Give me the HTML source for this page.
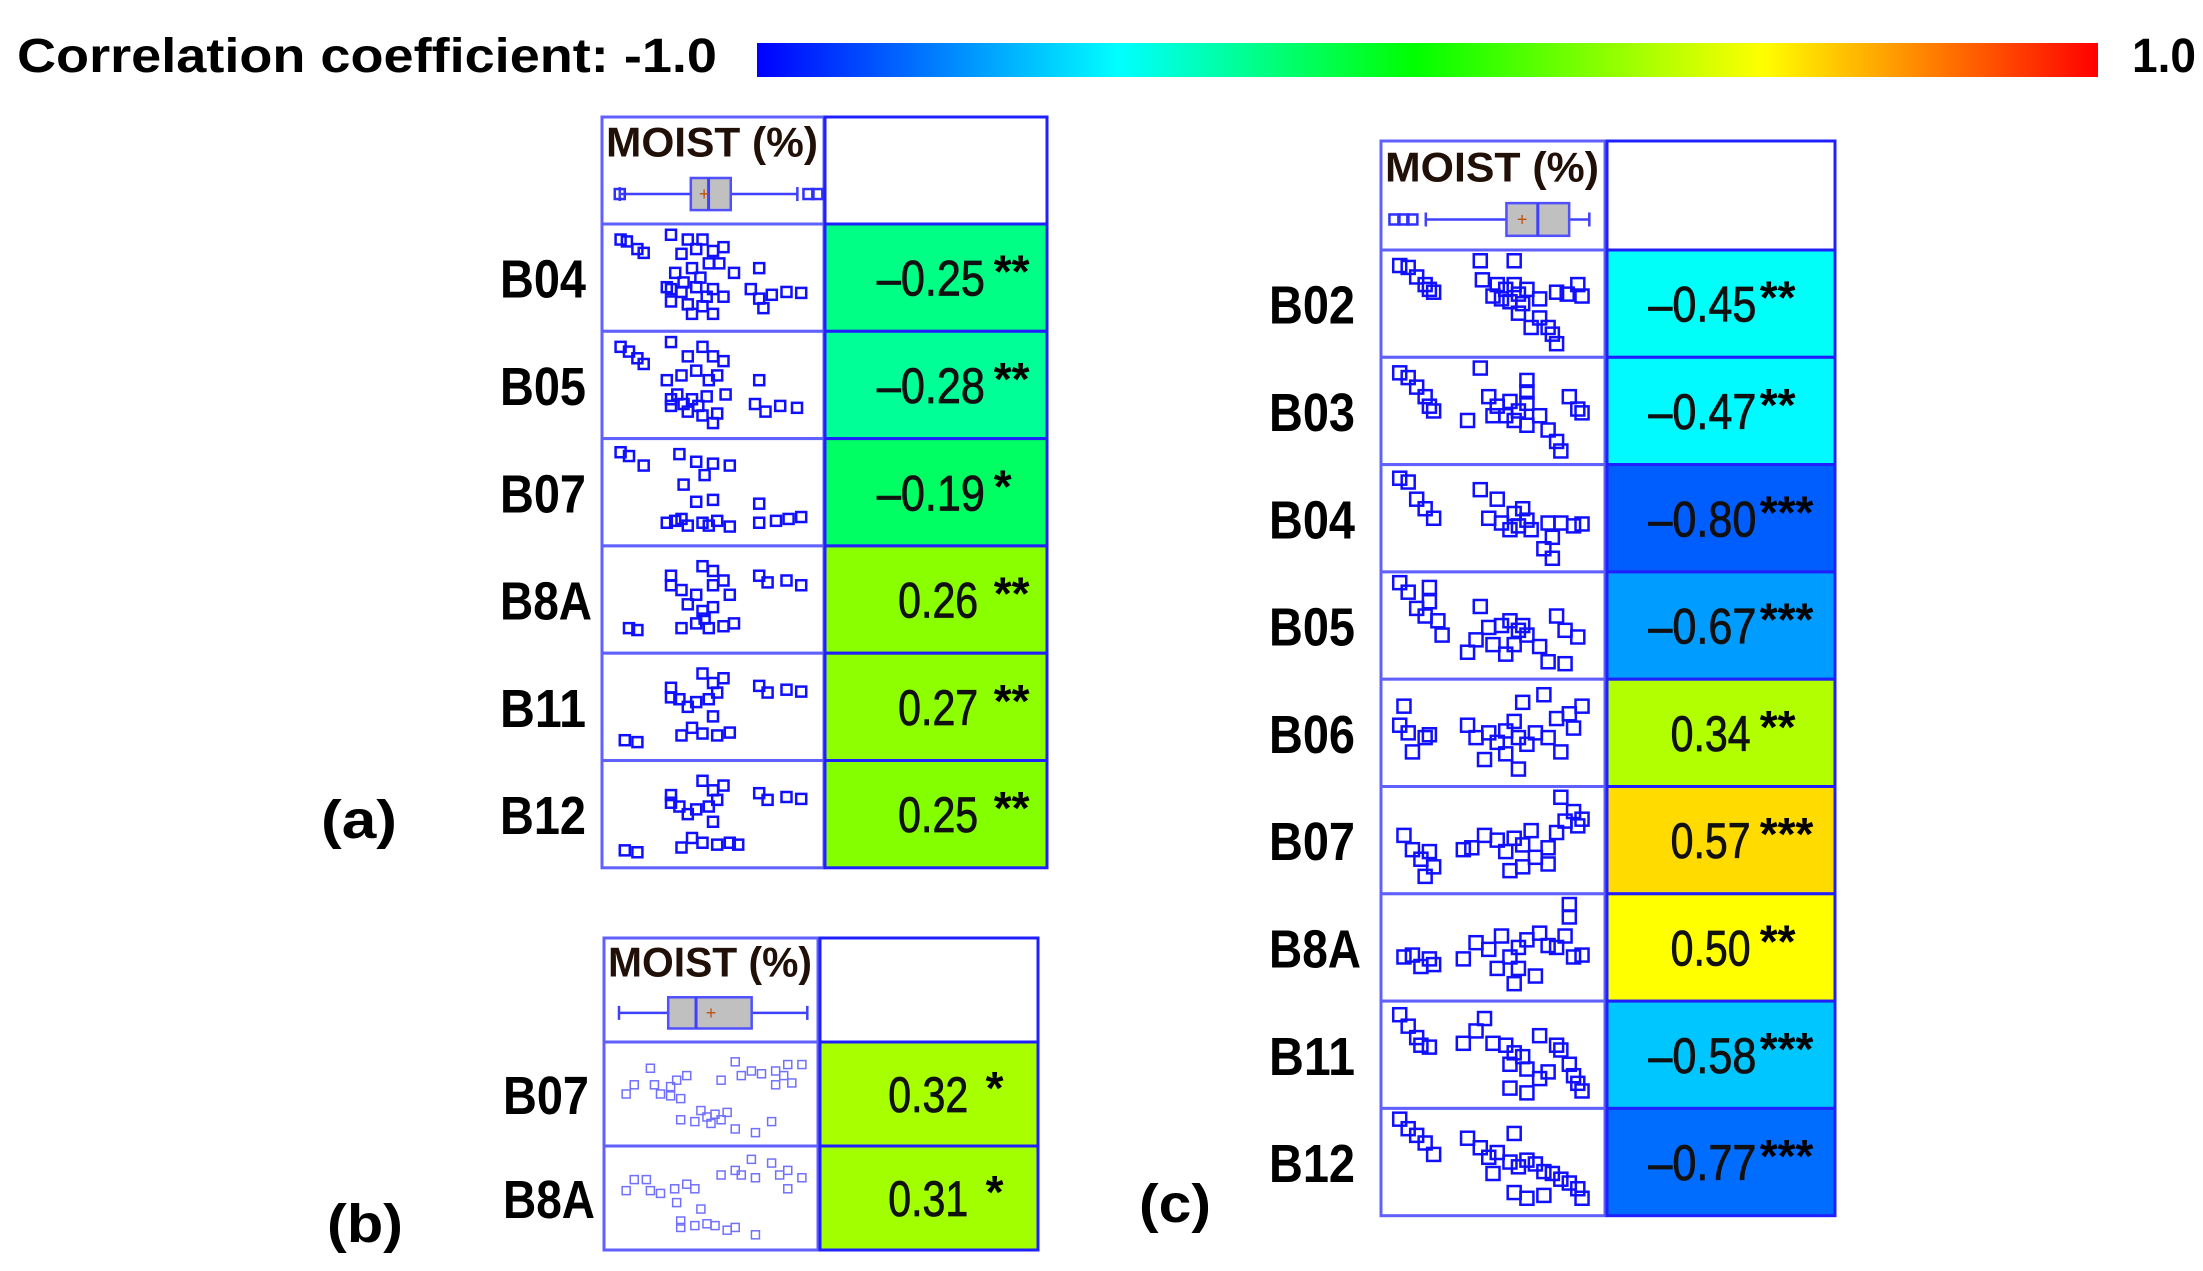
<!DOCTYPE html>
<html><head><meta charset="utf-8"><style>
html,body{margin:0;padding:0;background:#fff;}
svg{display:block;font-family:"Liberation Sans",Arial,sans-serif;}
</style></head><body>
<svg id="chart" width="2203" height="1271" viewBox="0 0 2203 1271">
<defs>
<linearGradient id="cbar" x1="0" x2="1" y1="0" y2="0">
<stop offset="0" stop-color="#0000ff"/><stop offset="0.27" stop-color="#00ffff"/><stop offset="0.49" stop-color="#00ff00"/><stop offset="0.75" stop-color="#ffff00"/><stop offset="1" stop-color="#ff0000"/>
</linearGradient>
</defs>
<g>
<text x="17" y="72" font-size="48" font-weight="bold" textLength="700" lengthAdjust="spacingAndGlyphs">Correlation coefficient: -1.0</text>
<rect x="757" y="43" width="1341" height="34" fill="url(#cbar)"/>
<text x="2132" y="72" font-size="48" font-weight="bold" textLength="64" lengthAdjust="spacingAndGlyphs">1.0</text>
</g>
<text x="321" y="838" font-size="54" font-weight="bold" textLength="76" lengthAdjust="spacingAndGlyphs">(a)</text>
<text x="327" y="1242" font-size="54" font-weight="bold" textLength="76" lengthAdjust="spacingAndGlyphs">(b)</text>
<text x="1139" y="1222" font-size="54" font-weight="bold" textLength="72" lengthAdjust="spacingAndGlyphs">(c)</text>
</svg>
<script>
// Panel data
const aBands = ["B04","B05","B07","B8A","B11","B12"];
const aValues = [-0.25,-0.28,-0.19,0.26,0.27,0.25];
const aStars = ["**","**","*","**","**","**"];
const bBands = ["B07","B8A"];
const bValues = [0.32,0.31];
const bStars = ["*","*"];
const cBands = ["B02","B03","B04","B05","B06","B07","B8A","B11","B12"];
const cValues = [-0.45,-0.47,-0.80,-0.67,0.34,0.57,0.50,-0.58,-0.77];
const cStars = ["**","**","***","***","**","***","**","***","***"];
// normalized scatter points [x,y] (0..1) per row
const aPts = [
 [[.06,.1],[.09,.12],[.14,.2],[.17,.24],[.3,.05],[.38,.1],[.45,.1],[.35,.25],[.42,.2],[.5,.22],[.55,.18],[.48,.35],[.4,.4],[.32,.45],[.28,.6],[.35,.65],[.42,.6],[.5,.62],[.55,.7],[.3,.75],[.38,.78],[.45,.8],[.5,.88],[.53,.35],[.6,.45],[.72,.4],[.68,.62],[.72,.72],[.78,.68],[.85,.65],[.92,.66],[.74,.82],[.36,.55],[.44,.5],[.3,.62],[.47,.7],[.4,.88]],
 [[.06,.1],[.1,.15],[.14,.22],[.17,.28],[.3,.05],[.45,.1],[.38,.2],[.5,.2],[.55,.25],[.42,.35],[.35,.4],[.28,.45],[.48,.45],[.52,.4],[.33,.6],[.4,.65],[.47,.62],[.3,.72],[.38,.78],[.45,.82],[.52,.8],[.72,.45],[.7,.7],[.75,.78],[.82,.72],[.9,.74],[.5,.9],[.36,.7],[.43,.72],[.3,.65],[.56,.6]],
 [[.06,.08],[.1,.12],[.17,.22],[.34,.1],[.42,.18],[.5,.2],[.58,.22],[.46,.32],[.36,.42],[.42,.6],[.5,.58],[.32,.8],[.38,.85],[.45,.82],[.52,.8],[.58,.86],[.28,.82],[.72,.62],[.72,.82],[.8,.8],[.86,.78],[.92,.76],[.35,.78],[.48,.85]],
 [[.1,.8],[.14,.82],[.3,.35],[.35,.4],[.45,.15],[.5,.2],[.5,.35],[.55,.3],[.42,.45],[.38,.55],[.45,.62],[.5,.58],[.42,.75],[.48,.8],[.55,.78],[.6,.75],[.35,.8],[.72,.25],[.76,.32],[.85,.3],[.92,.35],[.58,.45],[.3,.25],[.46,.7]],
 [[.08,.85],[.14,.87],[.3,.3],[.34,.42],[.45,.15],[.5,.25],[.52,.35],[.42,.45],[.38,.5],[.5,.6],[.4,.72],[.45,.78],[.52,.8],[.58,.77],[.35,.8],[.72,.28],[.76,.35],[.85,.32],[.92,.34],[.55,.2],[.48,.42],[.3,.4]],
 [[.08,.88],[.14,.9],[.3,.3],[.34,.42],[.45,.15],[.5,.25],[.52,.35],[.42,.45],[.38,.5],[.5,.58],[.4,.75],[.45,.8],[.52,.82],[.58,.8],[.35,.85],[.62,.82],[.72,.28],[.76,.35],[.85,.32],[.92,.34],[.55,.2],[.48,.42],[.3,.38]]
];
const bPts = [
 [[.08,.5],[.12,.4],[.2,.22],[.22,.4],[.25,.5],[.3,.42],[.33,.35],[.38,.3],[.3,.52],[.35,.55],[.45,.68],[.48,.75],[.52,.72],[.58,.7],[.5,.82],[.55,.78],[.62,.88],[.72,.92],[.55,.35],[.62,.15],[.65,.3],[.7,.25],[.75,.28],[.82,.25],[.86,.3],[.88,.18],[.95,.18],[.82,.4],[.9,.38],[.35,.78],[.42,.8],[.8,.8]],
 [[.08,.42],[.12,.3],[.18,.3],[.2,.42],[.25,.45],[.32,.4],[.38,.35],[.42,.4],[.45,.62],[.33,.55],[.35,.75],[.42,.8],[.48,.78],[.52,.8],[.58,.85],[.62,.82],[.72,.9],[.55,.25],[.62,.2],[.65,.25],[.7,.08],[.72,.28],[.8,.12],[.84,.25],[.88,.2],[.95,.28],[.88,.4],[.35,.82]]
];
const cPts = [
 [[.06,.1],[.1,.12],[.14,.22],[.18,.3],[.2,.35],[.22,.38],[.44,.05],[.6,.05],[.45,.25],[.52,.3],[.56,.35],[.62,.4],[.66,.35],[.5,.42],[.58,.48],[.64,.5],[.72,.45],[.8,.38],[.85,.4],[.9,.3],[.92,.42],[.62,.6],[.72,.65],[.76,.75],[.78,.82],[.8,.92],[.68,.75],[.54,.45],[.6,.3]],
 [[.06,.1],[.1,.15],[.14,.25],[.18,.35],[.2,.45],[.22,.5],[.44,.05],[.48,.35],[.52,.45],[.58,.4],[.62,.5],[.66,.42],[.5,.55],[.6,.6],[.66,.65],[.72,.55],[.76,.7],[.8,.82],[.82,.92],[.86,.35],[.9,.48],[.92,.52],[.66,.18],[.66,.3],[.38,.6],[.56,.55]],
 [[.06,.08],[.1,.12],[.14,.3],[.18,.4],[.22,.5],[.44,.2],[.48,.5],[.54,.55],[.6,.45],[.64,.4],[.66,.52],[.58,.62],[.68,.62],[.76,.55],[.78,.7],[.82,.55],[.88,.58],[.92,.56],[.74,.82],[.78,.92],[.52,.3],[.62,.58]],
 [[.06,.05],[.1,.15],[.14,.32],[.18,.4],[.2,.1],[.2,.25],[.24,.45],[.26,.6],[.44,.3],[.48,.52],[.54,.5],[.58,.45],[.62,.55],[.66,.6],[.6,.7],[.5,.7],[.38,.78],[.56,.8],[.72,.72],[.8,.4],[.84,.55],[.9,.62],[.76,.88],[.84,.9],[.42,.65],[.64,.5]],
 [[.08,.22],[.06,.42],[.1,.5],[.12,.7],[.18,.55],[.2,.52],[.38,.42],[.42,.55],[.48,.5],[.52,.6],[.56,.48],[.6,.38],[.62,.55],[.66,.62],[.7,.5],[.76,.55],[.8,.35],[.86,.3],[.92,.22],[.64,.18],[.74,.1],[.46,.78],[.56,.72],[.62,.88],[.82,.7],[.88,.45]],
 [[.08,.45],[.12,.6],[.16,.7],[.2,.62],[.22,.78],[.18,.88],[.36,.6],[.4,.58],[.46,.45],[.52,.5],[.56,.62],[.6,.48],[.64,.55],[.68,.4],[.7,.68],[.76,.58],[.8,.42],[.84,.3],[.88,.2],[.9,.35],[.92,.28],[.82,.05],[.76,.75],[.64,.78],[.58,.82]],
 [[.08,.6],[.12,.58],[.16,.7],[.2,.62],[.22,.68],[.36,.62],[.42,.45],[.48,.52],[.54,.38],[.58,.6],[.62,.5],[.66,.42],[.72,.35],[.76,.48],[.8,.5],[.84,.38],[.86,.05],[.86,.18],[.88,.6],[.92,.58],[.52,.72],[.62,.72],[.7,.8],[.6,.88]],
 [[.06,.08],[.1,.2],[.14,.32],[.16,.4],[.2,.42],[.36,.38],[.42,.25],[.46,.12],[.5,.38],[.56,.4],[.6,.48],[.64,.52],[.58,.6],[.66,.65],[.72,.75],[.76,.68],[.8,.4],[.82,.45],[.86,.6],[.88,.72],[.9,.8],[.92,.88],[.58,.85],[.66,.9],[.72,.3]],
 [[.06,.05],[.1,.15],[.14,.22],[.18,.3],[.22,.42],[.38,.25],[.44,.35],[.48,.45],[.52,.4],[.58,.5],[.62,.55],[.6,.2],[.66,.48],[.7,.52],[.74,.6],[.78,.62],[.82,.68],[.86,.72],[.9,.78],[.92,.88],[.6,.82],[.66,.88],[.74,.85],[.5,.62]]
];
const aBox = {min:.08,q1:.4,med:.48,q3:.58,max:.88,mean:.46,outL:[.08],outR:[.93,.97]};
const bBox = {min:.07,q1:.3,med:.43,q3:.69,max:.95,mean:.5,outL:[],outR:[]};
const cBox = {min:.2,q1:.56,med:.7,q3:.84,max:.93,mean:.63,outL:[.06,.1,.14],outR:[]};

const svg = document.getElementById('chart');
const NS = 'http://www.w3.org/2000/svg';
function mk(tag, attrs, parent){ const e=document.createElementNS(NS,tag); for(const k in attrs) e.setAttribute(k,attrs[k]); (parent||svg).appendChild(e); return e; }

const stops=[[0,[0,0,255]],[0.27,[0,255,255]],[0.49,[0,255,0]],[0.75,[255,255,0]],[1,[255,0,0]]];
function colorFor(v){
  const t=(v+1)/2;
  for(let i=0;i<stops.length-1;i++){
    const [t0,c0]=stops[i],[t1,c1]=stops[i+1];
    if(t>=t0&&t<=t1){const f=(t-t0)/(t1-t0);return 'rgb('+c0.map((c,j)=>Math.round(c+(c1[j]-c)*f)).join(',')+')';}
  }
  return 'red';
}

function panel(id, cfg){
  const g=mk('g',{});
  
  
  const {sx,sw,vx,vw,top,headH,rowH,labelX,bands,values,stars,pts,box,ms,light,endNeg,endPos,starF}=cfg;
  const hs=mk('rect',{x:sx,y:top,width:sw,height:headH,fill:'#fff',stroke:'#6060ff','stroke-width':3},g);
  
  
  const hv=mk('rect',{x:vx,y:top,width:vw,height:headH,fill:'#fff',stroke:'#2020ff','stroke-width':3},g);
  
  
  const ht=mk('text',{x:sx+4,y:top+headH*0.37,'font-size':42,'font-weight':'bold',fill:'#201008',textLength:sw-10,lengthAdjust:'spacingAndGlyphs'},g);
  ht.textContent='MOIST (%)';
  
  
  const bx=v=>sx+v*sw, by=top+headH*0.72, bh=headH*0.3;
  const bg=mk('g',{},g);
  
  
  mk('line',{x1:bx(box.min),x2:bx(box.q1),y1:by,y2:by,stroke:'#4040ff','stroke-width':2.5},bg);
  mk('line',{x1:bx(box.q3),x2:bx(box.max),y1:by,y2:by,stroke:'#4040ff','stroke-width':2.5},bg);
  mk('line',{x1:bx(box.min),x2:bx(box.min),y1:by-7,y2:by+7,stroke:'#4040ff','stroke-width':2.5},bg);
  mk('line',{x1:bx(box.max),x2:bx(box.max),y1:by-7,y2:by+7,stroke:'#4040ff','stroke-width':2.5},bg);
  mk('rect',{x:bx(box.q1),y:by-bh/2,width:bx(box.q3)-bx(box.q1),height:bh,fill:'#c0c0c0',stroke:'#5050ff','stroke-width':2.5},bg);
  mk('line',{x1:bx(box.med),x2:bx(box.med),y1:by-bh/2,y2:by+bh/2,stroke:'#4040ff','stroke-width':3},bg);
  mk('text',{x:bx(box.mean),y:by+6,'font-size':18,fill:'#c05010','text-anchor':'middle'},bg).textContent='+';
  box.outL.concat(box.outR).forEach(o=>mk('rect',{x:bx(o)-5,y:by-5,width:10,height:10,fill:'none',stroke:'#3030ff','stroke-width':2.5},bg));
  bands.forEach((b,i)=>{
    const y=top+headH+i*rowH;
    const cs=mk('rect',{x:sx,y:y,width:sw,height:rowH,fill:'#fff',stroke:'#6060ff','stroke-width':3},g);
    
    
    pts[i].forEach(p=>{
      const m=mk('rect',{x:sx+6+p[0]*(sw-12)-ms/2,y:y+6+p[1]*(rowH-12)-ms/2,width:ms,height:ms,fill:'none',stroke:light?'#7070ff':'#1010ff','stroke-width':light?1.5:2.5},g);
      
      
    });
    const cv=mk('rect',{x:vx,y:y,width:vw,height:rowH,fill:colorFor(values[i]),stroke:'#2020ff','stroke-width':3},g);
    
    
    const lab=mk('text',{x:labelX,y:y+rowH/2+20,'font-size':54,'font-weight':'bold',textLength:b==='B8A'?92:86,lengthAdjust:'spacingAndGlyphs'},g);
    lab.textContent=b;
    
    
    const s=values[i].toFixed(2).replace('-','\u2013');
    const neg=values[i]<0;
    const len=neg?108:80;
    const end=vx+vw*(neg?endNeg:endPos);
    const vt=mk('text',{x:end-len,y:y+rowH/2+18,'font-size':50,fill:'#111',stroke:'#111','stroke-width':0.8,textLength:len,lengthAdjust:'spacingAndGlyphs'},g);
    vt.textContent=s;
    
    
    const st=mk('text',{x:vx+vw*starF,y:y+rowH/2+10,'font-size':46,'font-weight':'bold',fill:'#000'},g);
    st.textContent=stars[i];
    
    
  });
}
panel('panel-a',{sx:602,sw:222,vx:825,vw:222,top:117,headH:107,rowH:107.3,labelX:500,bands:aBands,values:aValues,stars:aStars,pts:aPts,box:aBox,ms:10,endNeg:.72,endPos:.69,starF:.76});
panel('panel-b',{sx:604,sw:214,vx:820,vw:218,top:938,headH:104,rowH:104,labelX:503,bands:bBands,values:bValues,stars:bStars,pts:bPts,box:bBox,ms:8,light:true,endNeg:.68,endPos:.68,starF:.76});
panel('panel-c',{sx:1381,sw:224,vx:1607,vw:228,top:141,headH:109,rowH:107.3,labelX:1269,bands:cBands,values:cValues,stars:cStars,pts:cPts,box:cBox,ms:13,endNeg:.655,endPos:.63,starF:.67});
</script>
</body></html>
